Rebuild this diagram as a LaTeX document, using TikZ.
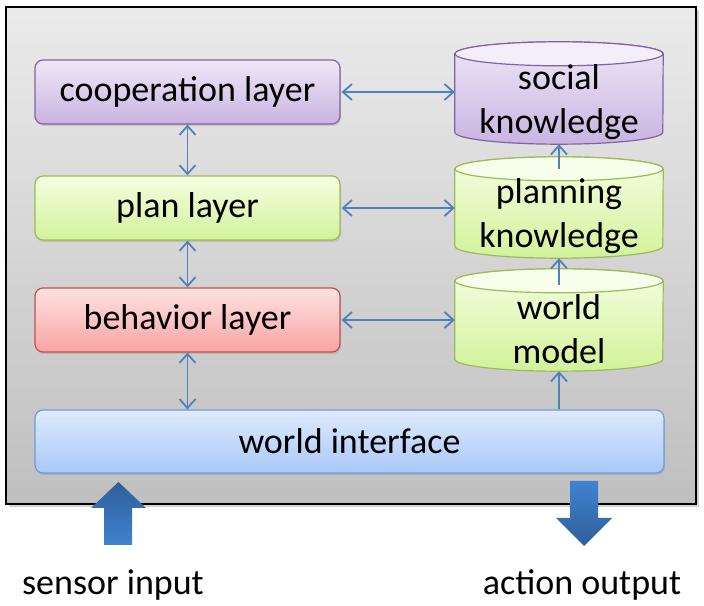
\documentclass[tikz,border=0pt]{standalone}
\usepackage{fontspec}
\setmainfont{Carlito}
\usetikzlibrary{arrows.meta,shadows}
\pgfdeclarelayer{back}
\pgfdeclarelayer{bg}
\pgfsetlayers{back,bg,main}
\definecolor{arrowblue}{HTML}{4F81BD}
\definecolor{purpB}{HTML}{8064A2}
\definecolor{purpT}{HTML}{EEE7F7}
\definecolor{purpL}{HTML}{C9B4E1}
\definecolor{greenB}{HTML}{9BBB59}
\definecolor{greenT}{HTML}{F4FEE2}
\definecolor{greenL}{HTML}{D3F29A}
\definecolor{redB}{HTML}{C0504D}
\definecolor{redT}{HTML}{FFE2E2}
\definecolor{redL}{HTML}{F7A4A4}
\definecolor{blueB}{HTML}{6F9BD6}
\definecolor{blueT}{HTML}{DFEAFD}
\definecolor{blueL}{HTML}{A9C8F8}
\definecolor{bigDark}{HTML}{2E5F9A}
\definecolor{bigLight}{HTML}{4182CF}
\tikzset{
  layerbox/.style={rounded corners=8pt, line width=1.2pt, minimum width=305pt, minimum height=64pt,
    inner sep=0pt, font=\fontsize{36}{44}\selectfont,
    drop shadow={shadow xshift=1pt, shadow yshift=-2pt, opacity=0.25}},
  cylnode/.style={minimum width=208pt, minimum height=102pt, inner sep=0pt, align=center,
    font=\fontsize{36}{44}\selectfont},
  cylshape/.style={minimum width=208pt, minimum height=102pt, inner sep=0pt},
  conn/.style={draw=arrowblue, line width=1.8pt, {Straight Barb[length=9pt,width=16pt]}-{Straight Barb[length=9pt,width=16pt]}},
  uconn/.style={draw=arrowblue, line width=1.8pt, -{Straight Barb[length=9pt,width=16pt]}},
  biglabel/.style={font=\fontsize{36}{44}\selectfont, inner sep=0pt}
}
\newcommand\mycyl[5]{%
  \draw[draw=#4, line width=1.2pt, top color=#2, bottom color=#3]
    ([yshift=-12pt]#1.north west) -- ([yshift=12pt]#1.south west)
    arc[start angle=180,end angle=360,x radius=104pt,y radius=12pt]
    -- ([yshift=-12pt]#1.north east)
    arc[start angle=0,end angle=180,x radius=104pt,y radius=12pt] -- cycle;
  \draw[draw=#4, line width=1.2pt, fill=#5] ([yshift=-12pt]#1.north) ellipse[x radius=104pt, y radius=12pt];
}
\begin{document}
\begin{tikzpicture}[x=1pt,y=1pt]
\useasboundingbox (0,0) rectangle (704,605);
% outer frame
\begin{pgfonlayer}{back}
\fill[black!35, opacity=0.5] (9,98) rectangle (699,595);
\draw[line width=2pt, top color=black!8, bottom color=black!25] (6,101) rectangle (696,598);
\end{pgfonlayer}

% layers
\node[layerbox, draw=purpB, top color=purpT, bottom color=purpL] (coop) at (187.5,513) {cooperation layer};
\node[layerbox, draw=greenB, top color=greenT, bottom color=greenL] (plan) at (187.5,397) {plan layer};
\node[layerbox, draw=redB, top color=redT, bottom color=redL] (beh) at (187.5,285) {behavior layer};
\node[layerbox, draw=blueB, top color=blueT, bottom color=blueL, minimum width=629pt, minimum height=63pt] (wi) at (349.5,163.5) {world interface};

% cylinders (shapes)
\begin{pgfonlayer}{bg}
\node[cylshape] (socS) at (559,512) {};
\node[cylshape, minimum height=101pt] (plaS) at (559,397.5) {};
\node[cylshape] (wmS) at (559,285) {};
\mycyl{socS}{purpT}{purpL}{purpB}{purpT!70!white}
\mycyl{plaS}{greenT}{greenL}{greenB}{greenT!70!white}
\mycyl{wmS}{greenT}{greenL}{greenB}{greenT!70!white}
\end{pgfonlayer}
% cylinder texts
\node[cylnode] (soc) at (559,503) {social\\knowledge};
\node[cylnode] (pla) at (559,388.5) {planning\\knowledge};
\node[cylnode] (wm) at (559,276) {world\\model};

% connectors
\draw[conn] (coop.south) -- (plan.north);
\draw[conn] (plan.south) -- (beh.north);
\draw[conn] (beh.south) -- (beh.south |- wi.north);
\draw[conn] ([xshift=1pt]coop.east) -- (coop.east -| socS.west);
\draw[conn] ([xshift=1pt]plan.east) -- (plan.east -| plaS.west);
\draw[conn] ([xshift=1pt]beh.east) -- (beh.east -| wmS.west);
\draw[uconn] ([yshift=-12pt]plaS.north) -- (socS.south);
\draw[uconn] ([yshift=-16pt]wmS.north) -- (plaS.south);
\draw[uconn] (wi.north -| wmS.south) -- (wmS.south);

% big arrows
\shade[top color=bigDark, bottom color=bigLight]
  (104,60) -- (104,97) -- (91,97) -- (118.5,123) -- (146,97) -- (132,97) -- (132,60) -- cycle;
\shade[top color=bigLight, bottom color=bigDark]
  (570,124) -- (570,87) -- (556,87) -- (584,59) -- (612,87) -- (598,87) -- (598,124) -- cycle;

\node[biglabel] (sin) at (113,20) {sensor input};
\node[biglabel] (aout) at (582,20) {action output};
\end{tikzpicture}
\end{document}
